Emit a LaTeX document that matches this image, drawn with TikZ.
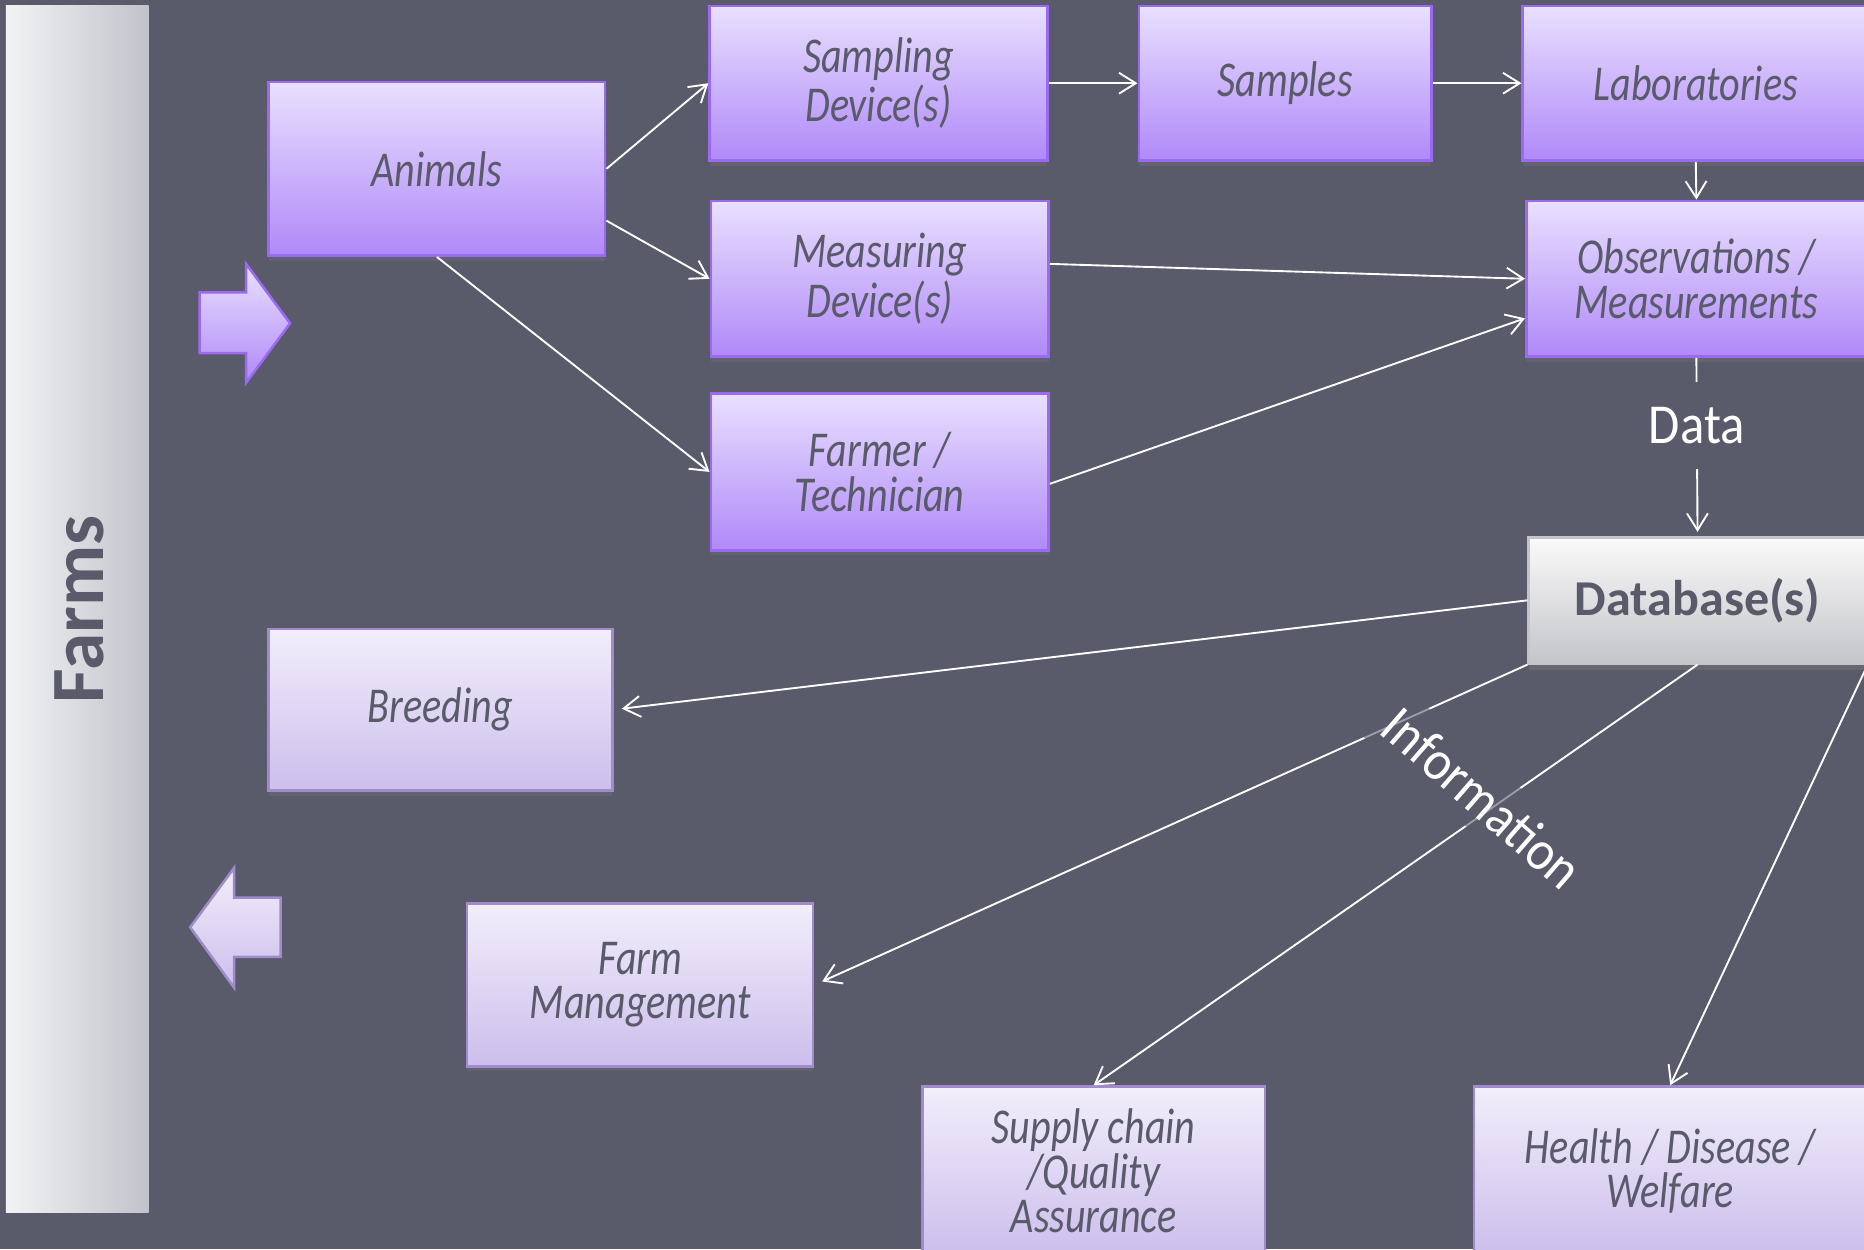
\documentclass[tikz,border=0pt]{standalone}
\usepackage{fontspec}
\setmainfont{Carlito}
\newfontfamily\boxfont[FakeStretch=0.8]{Carlito}
\newfontfamily\labelfont[FakeStretch=0.9]{Carlito}
\usetikzlibrary{arrows.meta,shadows}

\definecolor{slate}{RGB}{89,90,106}
\definecolor{ink}{RGB}{89,90,106}
\definecolor{violettop}{RGB}{233,224,255}
\definecolor{violetbot}{RGB}{176,137,248}
\definecolor{violetedge}{RGB}{155,106,242}
\definecolor{lilactop}{RGB}{242,238,251}
\definecolor{lilacbot}{RGB}{204,190,236}
\definecolor{lilacedge}{RGB}{160,140,205}
\definecolor{silvertop}{RGB}{250,250,250}
\definecolor{silverbot}{RGB}{196,197,201}
\definecolor{barlight}{RGB}{242,243,244}
\definecolor{bardark}{RGB}{194,194,203}

\begin{document}
\begin{tikzpicture}[x=0.01cm,y=-0.01cm,
        sensor/.style={draw=violetedge, line width=0.6pt, top color=violettop, bottom color=violetbot,
            text=ink, align=center, inner sep=0pt, font=\boxfont\itshape\fontsize{12}{10.6}\selectfont,
            drop shadow={shadow xshift=0pt, shadow yshift=-1.2pt, opacity=0.25}},
        outcome/.style={sensor, draw=lilacedge, top color=lilactop, bottom color=lilacbot},
        store/.style={draw=silverbot, line width=0.6pt, top color=silvertop, bottom color=silverbot,
            text=ink, inner sep=0pt, font=\bfseries\fontsize{12}{12}\selectfont,
            drop shadow={shadow xshift=0pt, shadow yshift=-1.5pt, opacity=0.35}},
        link/.style={draw=white, line width=0.45pt, -{Straight Barb[length=4pt,width=5pt]}},
        tag/.style={fill=slate, text=white, inner sep=3pt, font=\labelfont\fontsize{13.5}{13.5}\selectfont}]
        \clip (0,0) rectangle (1568,1051);
        \fill[slate] (0,0) rectangle (1568,1051);
        % farms bar
        \shade[left color=barlight, right color=bardark] (5,5) rectangle (125,1020);
        \node[rotate=90, text=ink, font=\bfseries\fontsize{18}{18}\selectfont] (farms) at (67,512.5) {Farms};
        \shade[draw=violetedge, line width=0.6pt, top color=violettop, bottom color=violetbot]
            (168,246) -- (207,246) -- (207,222) -- (244,272) -- (207,322) -- (207,297) -- (168,297) -- cycle;
        \shade[draw=lilacedge, line width=0.6pt, top color=lilactop, bottom color=lilacbot]
            (236,755) -- (197,755) -- (197,730) -- (160,780) -- (197,831) -- (197,805) -- (236,805) -- cycle;
        % sources
        \node[sensor, minimum width=2.83cm, minimum height=1.46cm] (animals) at (367.5,142) {Animals};
        \node[sensor, minimum width=2.84cm, minimum height=1.30cm] (sampling) at (739,70) {Sampling\\Device(s)};
        \node[sensor, minimum width=2.46cm, minimum height=1.30cm] (samples) at (1081,70) {Samples};
        \node[sensor, minimum width=2.91cm, minimum height=1.30cm] (labs) at (1426.5,70) {Laboratories};
        \node[sensor, minimum width=2.84cm, minimum height=1.31cm] (measuring) at (740,234.5) {Measuring\\Device(s)};
        \node[sensor, minimum width=2.86cm, minimum height=1.31cm] (obs) at (1427,234.5) {Observations /\\Measurements};
        \node[sensor, minimum width=2.84cm, minimum height=1.32cm] (farmer) at (740,397) {Farmer /\\Technician};
        \node[store, minimum width=2.84cm, minimum height=1.06cm] (db) at (1428,505) {Database(s)};
        % uses
        \node[outcome, minimum width=2.89cm, minimum height=1.36cm] (breeding) at (370.5,597) {Breeding};
        \node[outcome, minimum width=2.91cm, minimum height=1.37cm] (management) at (538.5,828.5) {Farm\\Management};
        \node[outcome, minimum width=2.88cm, minimum height=1.42cm] (supply) at (920,985) {Supply chain\\/Quality\\Assurance};
        \node[outcome, minimum width=3.30cm, minimum height=1.42cm] (health) at (1405,985) {Health / Disease /\\Welfare};
        % data flow
        \draw[link] (animals.east) -- (sampling.west);
        \draw[link] (animals.-17) -- (measuring.west);
        \draw[link] (animals.south) -- (farmer.west);
        \draw[link] (sampling.east) -- (samples.west);
        \draw[link] (samples.east) -- (labs.west);
        \draw[link] (labs.south) -- (obs.north);
        \draw[link] (measuring.5) -- (obs.west);
        \draw[link] (farmer.-4) -- (obs.193);
        \draw[link, shorten >=1pt] (obs.south) -- node[tag, pos=0.38, inner ysep=6pt] (data) {Data} (db.north);
        \draw[link, shorten >=2pt] (db.west) -- (breeding.east);
        \draw[link, shorten >=2pt] (db.south west) -- (management.east);
        \draw[link] (db.south) -- (supply.north);
        \draw[link] (db.south east) -- (health.north);
        \node[tag, rotate=-41, fill opacity=0.6, text opacity=1] (info) at (1247,671) {Information};
    \end{tikzpicture}
\end{document}
